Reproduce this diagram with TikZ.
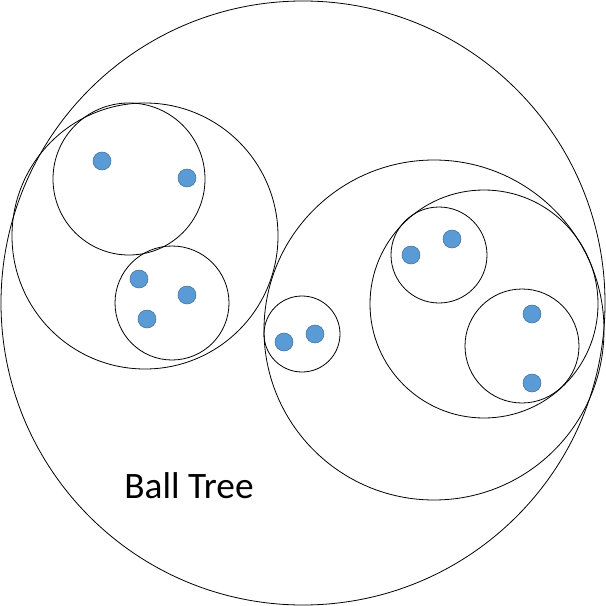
\documentclass[tikz,border=0pt]{standalone}
\usepackage{fontspec}
\setmainfont{Carlito}
\definecolor{dotfill}{RGB}{91,155,213}
\definecolor{dotline}{RGB}{65,113,156}
\begin{document}
\begin{tikzpicture}[x=0.75pt,y=-0.75pt]
  \tikzset{ball/.style={draw,circle,inner sep=0pt,line width=0.6pt},
    pt/.style={circle,fill=dotfill,draw=dotline,line width=0.4pt,inner sep=0pt,minimum size=13.5pt}}
  \useasboundingbox (0,0) rectangle (606,606);

  % Balls
  \node[ball,minimum size=453pt] (root) at (303,303) {};
  \node[ball,minimum size=199.5pt] (left) at (145,236) {};
  \node[ball,minimum size=114pt] (leftA) at (129,179) {};
  \node[ball,minimum size=85.5pt] (leftB) at (172,303) {};
  \node[ball,minimum size=255pt] (right) at (434,330) {};
  \node[ball,minimum size=57pt] (rightA) at (302,334) {};
  \node[ball,minimum size=171pt] (rightB) at (484,304) {};
  \node[ball,minimum size=72pt] (rightBa) at (439,255) {};
  \node[ball,minimum size=85.5pt] (rightBb) at (522,346) {};

  % Points
  \foreach \px/\py [count=\i] in {102/161,187/178,139/279,187/295,147/319,
      284/342,315/334,411/255,452/239,532/314,532/383}
    \node[pt] (p\i) at (\px,\py) {};

  \node[font=\fontsize{28}{32}\selectfont] (title) at (189,486) {Ball Tree};
\end{tikzpicture}
\end{document}
